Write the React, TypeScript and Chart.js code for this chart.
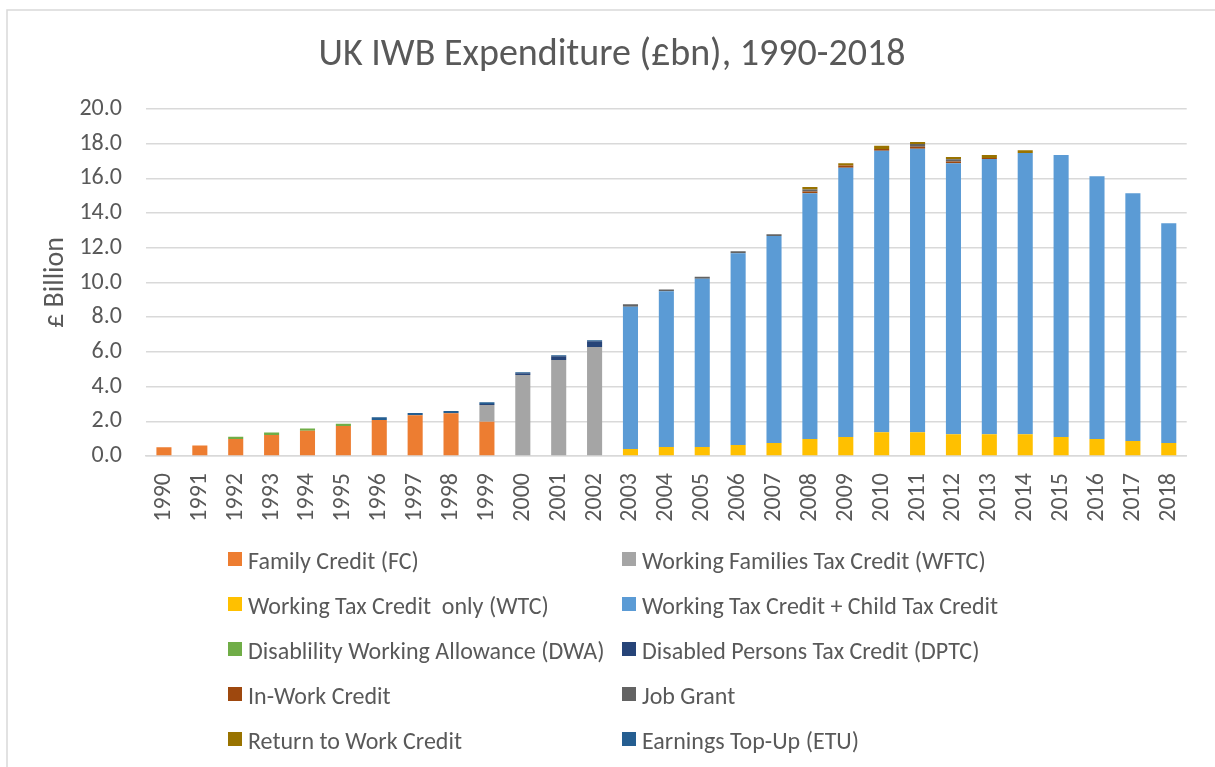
import React, { useEffect, useRef } from "react";
import { Chart, registerables } from "chart.js";

Chart.register(...registerables);

const years: string[] = [
  "1990", "1991", "1992", "1993", "1994", "1995", "1996", "1997", "1998", "1999",
  "2000", "2001", "2002", "2003", "2004", "2005", "2006", "2007", "2008", "2009",
  "2010", "2011", "2012", "2013", "2014", "2015", "2016", "2017", "2018",
];

const N = null;

const familyCredit = [0.5, 0.6, 0.98, 1.21, 1.46, 1.73, 2.08, 2.35, 2.46, 1.98, N, N, N, N, N, N, N, N, N, N, N, N, N, N, N, N, N, N, N];
const wftc = [N, N, N, N, N, N, N, N, N, 0.96, 4.67, 5.53, 6.28, N, N, N, N, N, N, N, N, N, N, N, N, N, N, N, N];
const wtcOnly = [N, N, N, N, N, N, N, N, N, N, N, N, N, 0.4, 0.52, 0.52, 0.63, 0.75, 0.98, 1.1, 1.37, 1.37, 1.25, 1.25, 1.25, 1.1, 0.98, 0.86, 0.75];
const wtcCtc = [N, N, N, N, N, N, N, N, N, N, N, N, N, 8.2, 8.97, 9.7, 11.05, 11.93, 14.16, 15.52, 16.23, 16.34, 15.62, 15.87, 16.21, 16.25, 15.14, 14.28, 12.66];
const dwa = [N, N, 0.13, 0.15, 0.13, 0.13, N, N, N, N, N, N, N, N, N, N, N, N, N, N, N, N, N, N, N, N, N, N, N];
const dptc = [N, N, N, N, N, N, N, N, N, 0.06, 0.1, 0.22, 0.33, N, N, N, N, N, N, N, N, N, N, N, N, N, N, N, N];
const inWorkCredit = [N, N, N, N, N, N, N, N, N, N, N, N, N, N, N, N, N, N, 0.1, 0.12, 0.1, 0.12, 0.1, 0.06, N, N, N, N, N];
const jobGrant = [N, N, N, N, N, N, N, N, N, N, N, N, N, 0.14, 0.11, 0.11, 0.12, 0.1, 0.12, N, N, 0.15, 0.13, N, N, N, N, N, N];
const returnToWork = [N, N, N, N, N, N, N, N, N, N, N, N, N, N, N, N, N, N, 0.14, 0.13, 0.18, 0.12, 0.13, 0.17, 0.16, N, N, N, N];
const earningsTopUp = [N, N, N, N, N, N, 0.15, 0.13, 0.13, 0.1, 0.05, 0.05, 0.06, N, N, N, N, N, N, N, N, N, N, N, N, N, N, N, N];

const yTicks: number[] = [0, 2, 4, 6, 8, 10, 12, 14, 16, 18, 20];

const chartTitle = "UK IWB Expenditure (£bn), 1990-2018";

const FONT = "Calibri, Carlito, Lato, sans-serif";
const TEXT = "#595959";
const GRID = "#D9D9D9";

const legendPlugin = {
  id: "twoColLegend",
  afterDraw(chart: any) {
    const ctx = chart.ctx;
    const ds = chart.data.datasets;
    ctx.save();
    ctx.font = `24px ${FONT}`;
    ctx.fillStyle = TEXT;
    ctx.textBaseline = "alphabetic";
    ctx.textAlign = "left";
    const colBox = [228, 622];
    const colText = [248, 642];
    ds.forEach((d: any, i: number) => {
      const col = i % 2;
      const row = Math.floor(i / 2);
      const base = 569 + row * 45;
      ctx.fillStyle = d.backgroundColor;
      ctx.fillRect(colBox[col], base - 17, 14, 14);
      ctx.fillStyle = TEXT;
      ctx.fillText(d.label, colText[col], base);
    });
    ctx.restore();
  },
};

const framePlugin = {
  id: "frame",
  beforeDraw(chart: any) {
    const ctx = chart.ctx;
    ctx.save();
    ctx.fillStyle = "#ffffff";
    ctx.fillRect(0, 0, chart.width, chart.height);
    ctx.strokeStyle = GRID;
    ctx.lineWidth = 1.5;
    ctx.strokeRect(7, 10, 1400, 1000);
    ctx.font = `38px ${FONT}`;
    ctx.fillStyle = TEXT;
    ctx.textAlign = "center";
    ctx.textBaseline = "middle";
    ctx.fillText(chartTitle, 612, 55);
    ctx.restore();
  },
};

export default function App() {
  const ref = useRef<HTMLCanvasElement | null>(null);
  useEffect(() => {
    if (!ref.current) return;
    const mk = (label: string, data: (number | null)[], color: string) => ({
      label,
      data,
      backgroundColor: color,
      borderWidth: 0,
      categoryPercentage: 1,
      barPercentage: 0.42,
    });
    const chart = new Chart(ref.current, {
      type: "bar",
      data: {
        labels: years,
        datasets: [
          mk("Family Credit (FC)", familyCredit, "#ED7D31"),
          mk("Working Families Tax Credit (WFTC)", wftc, "#A5A5A5"),
          mk("Working Tax Credit  only (WTC)", wtcOnly, "#FFC000"),
          mk("Working Tax Credit + Child Tax Credit", wtcCtc, "#5B9BD5"),
          mk("Disablility Working Allowance (DWA)", dwa, "#70AD47"),
          mk("Disabled Persons Tax Credit (DPTC)", dptc, "#264478"),
          mk("In-Work Credit", inWorkCredit, "#9E480E"),
          mk("Job Grant", jobGrant, "#636363"),
          mk("Return to Work Credit", returnToWork, "#997300"),
          mk("Earnings Top-Up (ETU)", earningsTopUp, "#255E91"),
        ],
      },
      options: {
        animation: false,
        responsive: false,
        maintainAspectRatio: false,
        layout: { padding: { left: 0, right: 25, top: 109, bottom: 0 } },
        plugins: {
          legend: { display: false },
          tooltip: { enabled: false },
          title: { display: false },
        },
        scales: {
          x: {
            stacked: true,
            grid: { display: false, drawTicks: false },
            border: { display: true, color: GRID, width: 1.5 },
            ticks: {
              color: TEXT,
              font: { family: FONT, size: 24 },
              minRotation: 90,
              maxRotation: 90,
              autoSkip: false,
              padding: 17,
            },
            afterFit: (s: any) => {
              s.height = 311;
            },
          },
          y: {
            stacked: true,
            min: 0,
            max: 20,
            afterBuildTicks: (s: any) => {
              s.ticks = yTicks.map((v) => ({ value: v }));
            },
            grid: { color: GRID, lineWidth: 1.5, drawTicks: false },
            border: { display: false },
            ticks: {
              color: TEXT,
              font: { family: FONT, size: 24 },
              padding: 24,
              callback: (v: any) => Number(v).toFixed(1),
            },
            title: {
              display: true,
              text: "£ Billion",
              color: TEXT,
              font: { family: FONT, size: 28 },
              padding: { top: 39, bottom: 0 },
            },
            afterFit: (s: any) => {
              s.width = 146;
            },
          },
        },
      },
      plugins: [framePlugin, legendPlugin],
    });
    return () => chart.destroy();
  }, []);
  return (
    <div style={{ position: "fixed", left: 0, top: 0, width: 1215, height: 767, background: "#fff" }}>
      <canvas ref={ref} width={1215} height={767} style={{ display: "block" }} />
    </div>
  );
}
